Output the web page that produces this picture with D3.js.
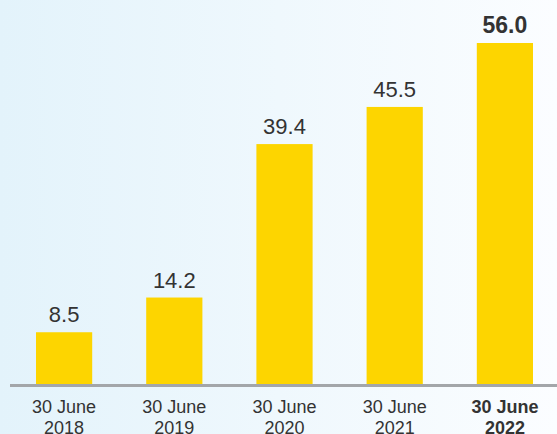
<!DOCTYPE html>
<html>
<head>
<meta charset="utf-8">
<script src="https://cdn.jsdelivr.net/npm/d3@7"></script>
<style>
  html, body { margin: 0; padding: 0; }
  body { width: 557px; height: 434px; overflow: hidden; }
  svg { display: block; font-family: "Liberation Sans", Arial, Helvetica, sans-serif; }
</style>
</head>
<body>
<div id="chart"></div>
<script>
// Data
const years = ["2018", "2019", "2020", "2021", "2022"];
const values = [8.5, 14.2, 39.4, 45.5, 56.0];
const highlightYear = "2022";

const W = 557, H = 434;
const baseline = 384;

const svg = d3.select("#chart")
  .append("svg")
  .attr("width", W)
  .attr("height", H);

// Background gradient, light blue fading to white
const defs = svg.append("defs");
const grad = defs.append("linearGradient")
  .attr("id", "bg")
  .attr("x1", "0%").attr("x2", "100%")
  .attr("y1", "0%").attr("y2", "0%");
grad.append("stop").attr("offset", "0%").attr("stop-color", "#e3f3fb");
grad.append("stop").attr("offset", "100%").attr("stop-color", "#fbfdff");

svg.append("rect")
  .attr("width", W)
  .attr("height", H)
  .attr("fill", "url(#bg)");

// Scales
const x = d3.scaleBand()
  .domain(years)
  .range([9, 560])
  .paddingInner(0.49)
  .paddingOuter(0.245);

const y = d3.scaleLinear()
  .domain([0, 56])
  .range([baseline, 43]);

// Bars
svg.append("g")
  .selectAll("rect")
  .data(years)
  .enter()
  .append("rect")
    .attr("x", d => x(d))
    .attr("y", (d, i) => y(values[i]))
    .attr("width", x.bandwidth())
    .attr("height", (d, i) => baseline - y(values[i]))
    .attr("fill", "#fdd500");

// Value labels
svg.append("g")
  .selectAll("text")
  .data(years)
  .enter()
  .append("text")
    .attr("x", d => x(d) + x.bandwidth() / 2)
    .attr("y", (d, i) => y(values[i]) - 10)
    .attr("text-anchor", "middle")
    .attr("fill", "#333333")
    .attr("font-size", d => d === highlightYear ? 23 : 22)
    .attr("font-weight", d => d === highlightYear ? "bold" : "normal")
    .text((d, i) => values[i].toFixed(1));

// Baseline axis
const xAxis = svg.append("g")
  .attr("transform", `translate(0, ${baseline + 1.5})`)
  .call(d3.axisBottom(x).tickSize(0).tickFormat(""));
xAxis.select(".domain")
  .attr("d", "M10,0H557")
  .attr("stroke", "#a3a6a9")
  .attr("stroke-width", 3);

// Category labels (two lines, second line runs off the bottom edge as in the original)
const labels = svg.append("g")
  .selectAll("text")
  .data(years)
  .enter()
  .append("text")
    .attr("text-anchor", "middle")
    .attr("fill", "#333333")
    .attr("font-size", 18)
    .attr("font-weight", d => d === highlightYear ? "bold" : "normal");

labels.append("tspan")
  .attr("x", d => x(d) + x.bandwidth() / 2)
  .attr("y", 413)
  .text("30 June");

labels.append("tspan")
  .attr("x", d => x(d) + x.bandwidth() / 2)
  .attr("y", 434)
  .text(d => d);
</script>
</body>
</html>
